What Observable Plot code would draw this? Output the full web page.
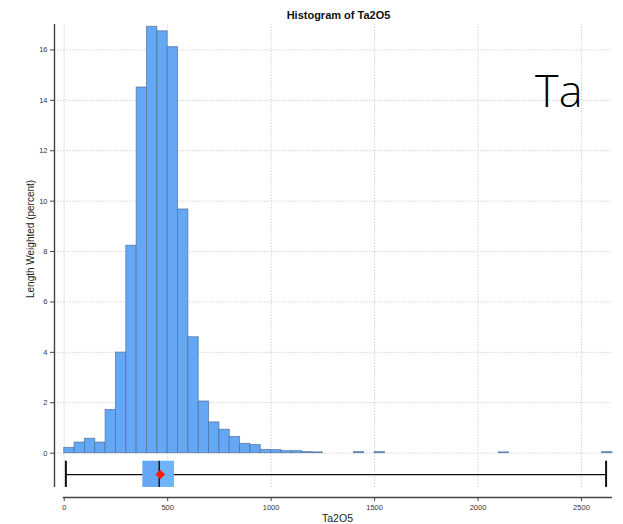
<!DOCTYPE html>
<html>
<head>
<meta charset="utf-8">
<script src="https://cdn.jsdelivr.net/npm/d3@7"></script>
<script src="https://cdn.jsdelivr.net/npm/@observablehq/plot@0.6"></script>
<style>
  html, body { margin: 0; padding: 0; background: #fff; }
  #chart svg { display: block; }
</style>
</head>
<body>
<div id="chart"></div>
<script>
// Histogram bins (lower edge, width 50) and their length-weighted percentages
const binWidth = 50;
const binLow = [0, 50, 100, 150, 200, 250, 300, 350, 400, 450, 500, 550, 600, 650, 700,
  750, 800, 850, 900, 950, 1000, 1050, 1100, 1150, 1200, 1400, 1500, 2100, 2600];
const percent = [0.21, 0.42, 0.57, 0.42, 1.71, 3.99, 8.23, 14.51, 16.92, 16.74, 16.11, 9.67,
  4.60, 2.05, 1.22, 0.93, 0.64, 0.37, 0.32, 0.13, 0.12, 0.08, 0.08, 0.04, 0.03, 0.04, 0.04, 0.03, 0.04];

// Box-plot summary of Ta2O5
const boxMin = 8;
const boxQ1 = 380;
const boxMedian = 459;
const boxQ3 = 533;
const boxMax = 2619;
const boxMean = 464;

// Axis ticks and labels
const xTicks = [0, 500, 1000, 1500, 2000, 2500];
const yTicks = [0, 2, 4, 6, 8, 10, 12, 14, 16];
const title = "Histogram of Ta2O5";
const xLabel = "Ta2O5";
const yLabel = "Length Weighted (percent)";
const element = "Ta";

const bins = binLow.map((lo, i) => ({x1: lo, x2: lo + binWidth, y: percent[i]}));

const xDomain = [-47, 2650];
const yDomain = [-1.76, 17.01];
const gridBottom = -1.36;
const boxTop = -0.32, boxBottom = -1.36, boxMid = -0.85;
const font = "'Liberation Sans', Arial, sans-serif";
const gridStyle = {stroke: "#c8c8c8", strokeWidth: 0.8, strokeDasharray: "1.5,1.5"};

const chart = Plot.plot({
  width: 623,
  height: 524,
  marginLeft: 54,
  marginRight: 11,
  marginTop: 24,
  marginBottom: 27,
  style: {fontFamily: font, background: "#fff"},
  x: {domain: xDomain, label: null},
  y: {domain: yDomain, label: null},
  marks: [
    // dotted grid
    Plot.ruleX(xTicks, {y1: gridBottom, y2: yDomain[1], ...gridStyle}),
    Plot.ruleY(yTicks, {x1: xDomain[0], x2: xDomain[1], ...gridStyle}),
    // histogram
    Plot.rectY(bins, {x1: "x1", x2: "x2", y: "y", fill: "#63a7f5",
      stroke: "#4d6f96", strokeOpacity: 0.75, strokeWidth: 0.9}),
    // box plot below the histogram
    Plot.ruleY([boxMid], {x1: boxMin, x2: boxMax, stroke: "#111", strokeWidth: 1.3}),
    Plot.ruleX([boxMin, boxMax], {y1: boxTop, y2: boxBottom, stroke: "#111", strokeWidth: 2}),
    Plot.rect([{a: boxQ1, b: boxMedian}], {x1: "a", x2: "b", y1: boxTop, y2: boxBottom, fill: "#63a7f5"}),
    Plot.rect([{a: boxMedian, b: boxQ3}], {x1: "a", x2: "b", y1: boxTop, y2: boxBottom, fill: "#6fb4fa"}),
    Plot.ruleX([boxMedian], {y1: boxTop, y2: boxBottom, stroke: "#111", strokeWidth: 1.5}),
    Plot.dot([boxMean], {x: d => d, y: boxMid, symbol: "square", rotate: 45, r: 3.8, fill: "#ff1a00", stroke: "none"}),
    // axis lines
    Plot.ruleX([xDomain[0]], {y1: gridBottom, y2: yDomain[1], stroke: "#444", strokeWidth: 1.4}),
    Plot.ruleY([yDomain[0]], {x1: -5, x2: xDomain[1], stroke: "#444", strokeWidth: 1.4}),
    Plot.axisY({ticks: yTicks, tickSize: 4, tickPadding: 3, fontSize: 7.5, color: "#333", stroke: "#444"}),
    Plot.axisX({ticks: xTicks, tickFormat: d3.format("d"), tickSize: 4, tickPadding: 3,
      fontSize: 7.5, color: "#333", stroke: "#444"}),
    // texts
    Plot.text([title], {frameAnchor: "top", dx: 5, dy: -6, lineAnchor: "bottom",
      fontSize: 11, fontWeight: "bold", fill: "#111"}),
    Plot.text([xLabel], {frameAnchor: "bottom", dx: 4, dy: 24, lineAnchor: "bottom",
      fontSize: 10.5, fill: "#222"}),
    Plot.text([yLabel], {x: xDomain[0], y: 8.5, dx: -24, rotate: -90,
      fontSize: 10, fill: "#222"}),
    Plot.text([element], {frameAnchor: "top-right", dx: -30, dy: 82, lineAnchor: "bottom",
      textAnchor: "end", fontSize: 45, fontWeight: 300,
      fontFamily: "'Open Sans', 'Noto Sans', sans-serif", fill: "#000"})
  ]
});

document.getElementById("chart").appendChild(chart);
</script>
</body>
</html>
